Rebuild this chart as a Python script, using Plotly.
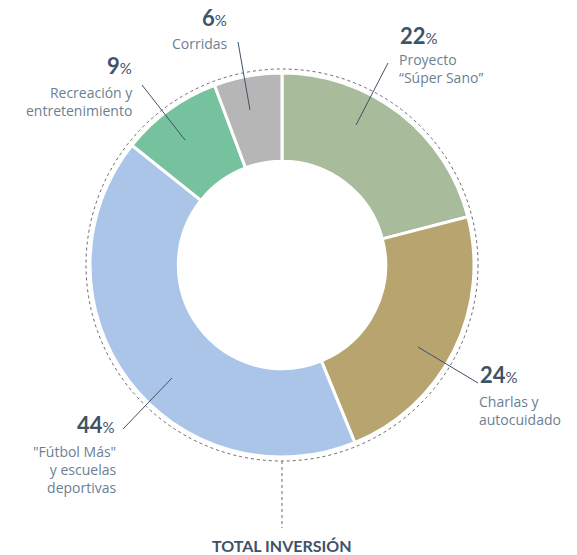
import plotly.graph_objects as go

# ---- data ----
categories = ["Proyecto “Súper Sano”", "Charlas y autocuidado",
              "\"Fútbol Más\" y escuelas deportivas",
              "Recreación y entretenimiento", "Corridas"]
values = [22, 24, 44, 9, 6]
colors = ["#a8bb9b", "#b7a46e", "#abc5e9", "#76c19e", "#b6b6b6"]
label_lines = [["Proyecto", "“Súper Sano”"],
               ["Charlas y", "autocuidado"],
               ["\"Fútbol Más\"", "y escuelas", "deportivas"],
               ["Recreación y", "entretenimiento"],
               ["Corridas"]]
total_label = "TOTAL INVERSIÓN"

# ---- layout constants (pixels) ----
W, H = 577, 555
CX, CY, R = 282, 265, 192
R_DOT = 196
NUM_C = "#3e5268"
LAB_C = "#6c7f92"
FONT = "Open Sans"
NUM_FONT = "Lato"

# per slice: (pct x, pct y-center, anchor, label x, first line y-center, leader inner, leader outer)
placement = [
    (399, 35, "left", 398, 59, (356, 125), (388, 63)),
    (479, 374, "left", 478, 401, (418, 347), (478, 383)),
    (116, 424, "right", 117, 451, (172, 378), (123, 429)),
    (133, 65, "right", 134, 92, (185, 140), (142, 85)),
    (228, 17, "right", 229, 43, (250, 110), (238, 42)),
]


def px(x):
    return x / W


def py(y):
    return 1 - y / H


fig = go.Figure(go.Pie(
    labels=categories, values=values, hole=0.54, sort=False,
    direction="clockwise", rotation=0,
    marker=dict(colors=colors, line=dict(color="white", width=3)),
    textinfo="none", hoverinfo="label+percent", showlegend=False,
    domain=dict(x=[px(CX - R), px(CX + R)], y=[py(CY + R), py(CY - R)]),
))

shapes = [
    dict(type="circle", xref="paper", yref="paper",
         x0=px(CX - R_DOT), x1=px(CX + R_DOT), y0=py(CY + R_DOT), y1=py(CY - R_DOT),
         line=dict(color="#6a6a6a", width=1, dash="dot"), layer="below"),
    dict(type="line", xref="paper", yref="paper",
         x0=px(CX), x1=px(CX), y0=py(CY + R_DOT), y1=py(528),
         line=dict(color="#6a6a6a", width=1, dash="dot")),
]
annotations = []
for i, v in enumerate(values):
    nx, ny, anc, lx, ly, lin, lout = placement[i]
    annotations.append(dict(
        x=px(nx), y=py(ny), xref="paper", yref="paper", xanchor=anc, yanchor="middle",
        text=f"<b>{v}</b><span style='font-size:15px;'>%</span>", showarrow=False,
        borderpad=0, font=dict(family=NUM_FONT, size=22, color=NUM_C)))
    annotations.append(dict(
        x=px(lx), y=py(ly - 10), xref="paper", yref="paper",
        xanchor=anc, yanchor="top", align=anc, text="<br>".join(label_lines[i]),
        showarrow=False, borderpad=0,
        font=dict(family=FONT, size=14, color=LAB_C)))
    shapes.append(dict(type="line", xref="paper", yref="paper",
                       x0=px(lin[0]), y0=py(lin[1]), x1=px(lout[0]), y1=py(lout[1]),
                       line=dict(color=NUM_C, width=1)))

annotations.append(dict(
    x=px(CX), y=py(545), xref="paper", yref="paper", xanchor="center", yanchor="middle",
    text=f"<b>{total_label}</b>", showarrow=False,
    font=dict(family=NUM_FONT, size=16, color=NUM_C)))

fig.update_layout(width=W, height=H, margin=dict(l=0, r=0, t=0, b=0),
                  paper_bgcolor="white", plot_bgcolor="white",
                  shapes=shapes, annotations=annotations)
fig.write_html("out.html", config={"displayModeBar": False},
               post_script="document.body.style.margin='0';document.body.style.overflow='hidden';")
